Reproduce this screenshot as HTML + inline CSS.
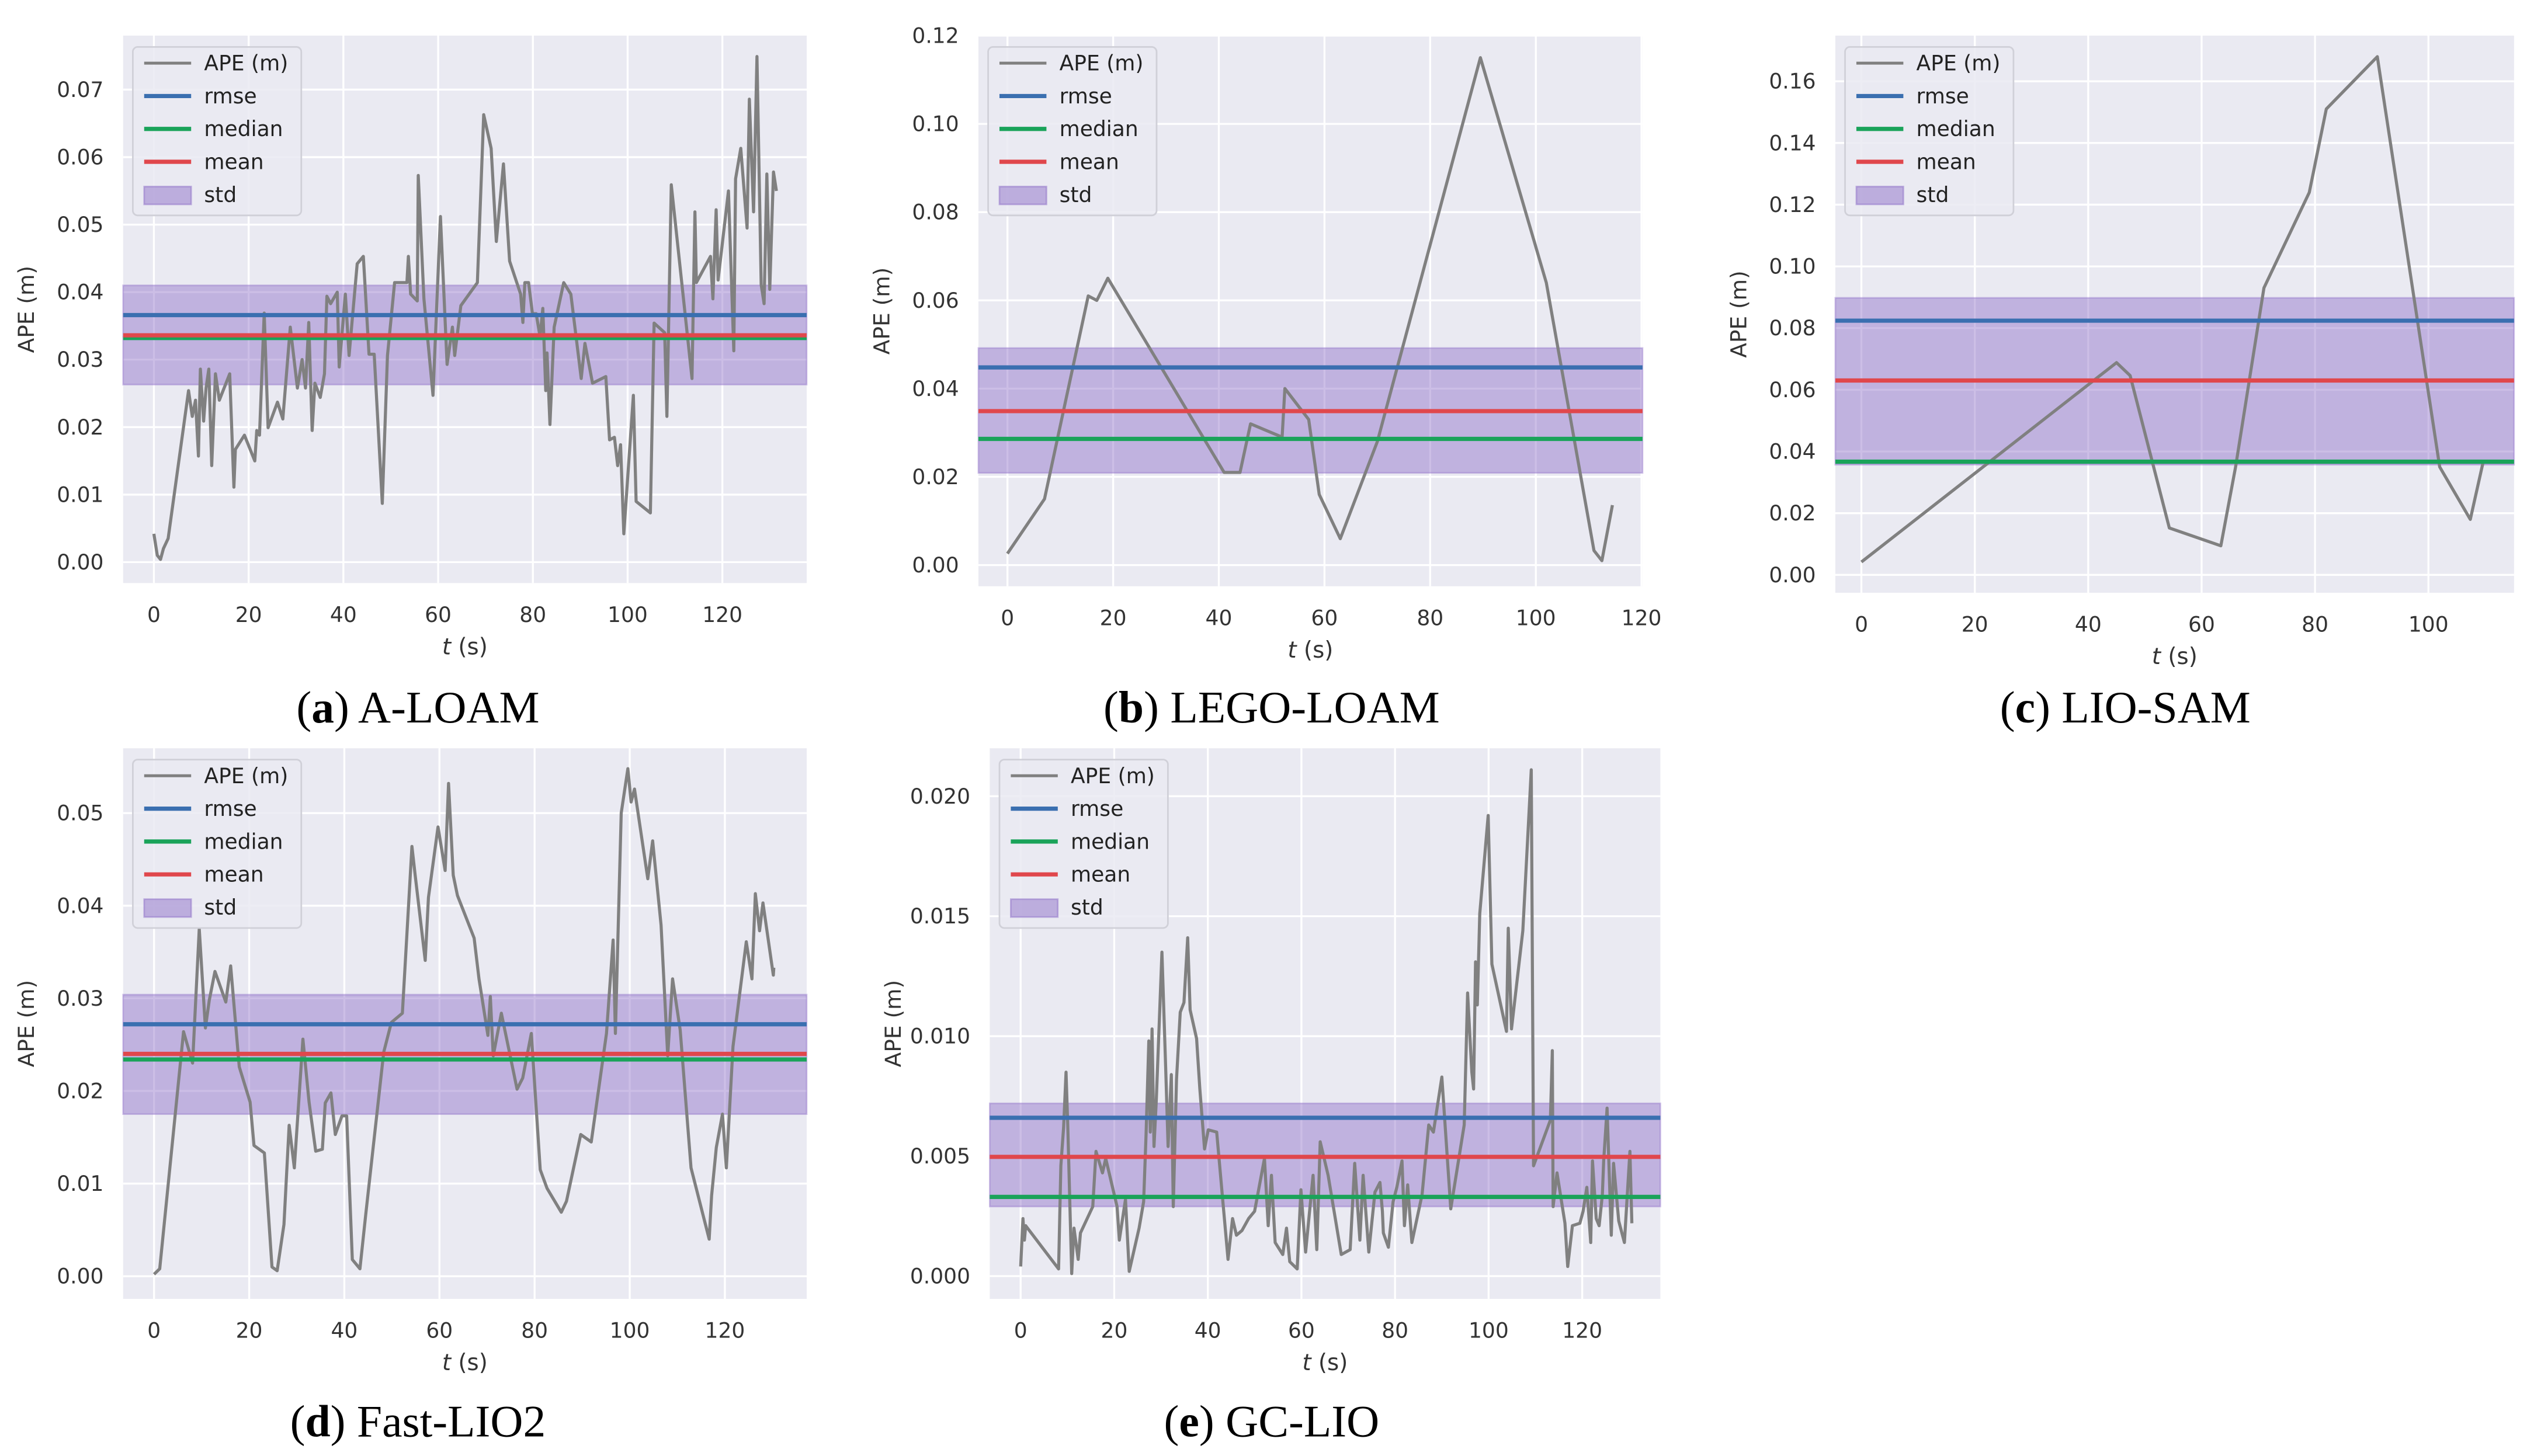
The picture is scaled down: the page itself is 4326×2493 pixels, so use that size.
<!DOCTYPE html>
<html><head><meta charset="utf-8"><style>
html,body{margin:0;padding:0;background:#fff;}
svg{display:block;}
</style></head><body>
<svg id="fig" width="4326" height="2493" viewBox="0 0 1560 899" preserveAspectRatio="none" xmlns="http://www.w3.org/2000/svg" font-family="'DejaVu Sans','Liberation Sans',sans-serif"></svg>
<script>
// ---- data: panel a (A-LOAM)
const aT=[0,0.7,1.4,2,3,7.3,8.1,8.8,9.4,9.8,10.5,11,11.6,12.2,13,13.8,16,16.9,17.2,19.1,21.3,21.7,22.3,23.3,24.1,26.1,27.2,28.8,30.3,31.3,32,32.7,33.4,34,35.1,36,36.5,37.3,38.7,39.1,40.4,41.2,42.9,44.2,45.4,46.5,48.2,49.3,50.8,53.4,53.7,54.2,55.6,55.8,57,58.9,60.5,61.9,63,63.5,64.8,68.3,69.6,71.2,72.3,73.8,75.1,77.4,77.9,78.3,79.1,79.9,80.7,81.5,82.1,82.7,83,83.6,84.5,86.5,88,90.2,91,92.6,95.4,96.2,97.2,97.9,98.5,99.2,101.2,101.8,104.8,105.6,107.8,108.3,109.2,113.6,114.2,114.5,117.5,118,118.7,119.1,121.3,122.4,122.8,123.9,125.2,125.7,126.6,127.3,128.2,128.8,129.4,130,130.8,131.4];
const aV=[0.0042,0.001,0.0004,0.002,0.0035,0.0254,0.0216,0.024,0.0157,0.0286,0.0209,0.0258,0.0286,0.0143,0.0279,0.024,0.0279,0.0111,0.0167,0.0188,0.015,0.0195,0.0188,0.0369,0.0199,0.0237,0.0212,0.0348,0.0258,0.03,0.0258,0.0355,0.0195,0.0265,0.0244,0.0279,0.0394,0.0383,0.04,0.0289,0.0397,0.0306,0.0442,0.0453,0.0308,0.0308,0.0087,0.0306,0.0414,0.0414,0.0453,0.0397,0.0387,0.0573,0.039,0.0247,0.0512,0.0293,0.0348,0.0306,0.038,0.0414,0.0663,0.0613,0.0475,0.059,0.0446,0.0397,0.0355,0.0414,0.0414,0.0368,0.0368,0.0334,0.0376,0.0254,0.031,0.0204,0.0348,0.0414,0.0397,0.0272,0.0324,0.0265,0.0275,0.0181,0.0185,0.0143,0.0174,0.0042,0.0247,0.009,0.0073,0.0354,0.034,0.0216,0.0559,0.0272,0.0519,0.0414,0.0453,0.039,0.0522,0.0418,0.055,0.0313,0.0568,0.0613,0.0495,0.0686,0.0519,0.0749,0.0411,0.0383,0.0575,0.0404,0.0578,0.055];
const aStats=[0.0366,0.0332,0.0336,0.0263,0.0410]; // rmse, median, mean, std lo, std hi
// ---- panel b (LEGO-LOAM)
const bT=[0,7,15.3,16.9,19,41,44,46,52,52.5,57,59,63,70,89.5,102,111,112.5,114.5];
const bV=[0.0026,0.015,0.061,0.06,0.065,0.021,0.021,0.032,0.029,0.04,0.033,0.016,0.006,0.028,0.115,0.064,0.0033,0.001,0.0136];
const bStats=[0.0448,0.0286,0.0349,0.0209,0.0492];
// ---- panel c (LIO-SAM)
const cT=[0,45,47.4,54.3,63.4,66,71,79,82,91,102,107.4,109.7];
const cV=[0.0042,0.0688,0.0646,0.0152,0.0094,0.035,0.093,0.124,0.151,0.168,0.035,0.018,0.037];
const cStats=[0.0824,0.0367,0.063,0.0357,0.0898];
// ---- panel d (Fast-LIO2)
const dT=[0,1.2,6.2,8.1,9.5,10.8,11.6,12.8,15.1,16.1,17.9,20.2,21,23.2,24.8,25.9,27.3,28.4,29.5,31.3,32.6,34,35.4,36,37.2,38.1,39.5,40.5,41.7,43.3,44.5,48.3,49.9,52.2,54.2,54.9,57,57.7,59.7,61.2,61.9,62.9,63.8,67.3,68.3,70.2,70.7,71.3,73,76.3,77.5,79.3,81.2,82.6,85.6,86.7,89.7,91.9,95.1,96.5,97,98.2,99.6,100.3,101,103.8,104.8,106.6,108,109,110.6,112.9,116.7,117.2,118.2,119.5,120.3,121.7,124.5,125.7,126.4,127.3,128,130.2,130.3];
const dV=[0.0002,0.0008,0.0264,0.023,0.0375,0.0268,0.0298,0.0329,0.0296,0.0335,0.0226,0.0188,0.0141,0.0133,0.001,0.0006,0.0056,0.0163,0.0117,0.0256,0.0188,0.0135,0.0137,0.0187,0.0198,0.0153,0.0173,0.0173,0.0018,0.0008,0.0067,0.0242,0.0274,0.0284,0.0464,0.0433,0.0341,0.0409,0.0485,0.0438,0.0532,0.0433,0.0411,0.0365,0.0321,0.026,0.0302,0.0238,0.0284,0.0202,0.0214,0.0262,0.0115,0.0095,0.0069,0.0081,0.0153,0.0145,0.0262,0.0363,0.0262,0.05,0.0548,0.0512,0.0526,0.0429,0.047,0.0379,0.0238,0.0321,0.0266,0.0117,0.004,0.0087,0.0139,0.0175,0.0117,0.0248,0.0361,0.0321,0.0413,0.0373,0.0403,0.0325,0.0333];
const dStats=[0.0272,0.0234,0.024,0.0175,0.0304];
// ---- panel e (GC-LIO)
const eT=[0,0.5,0.8,1.1,8.1,8.6,9.2,9.7,10.1,10.9,11.4,12.3,12.8,15.4,16.1,17.5,18.2,20.6,21.1,22.4,23.2,25.3,26.3,26.8,27.4,27.7,28.1,28.5,29,30.2,31,31.5,32.2,32.6,33.3,34.1,34.9,35.7,36.2,37.6,38.3,39.3,40.1,41.9,44.3,45.3,46.1,47.3,48.7,50,52.1,52.9,53.6,54.4,56,56.8,57.5,59.1,59.9,60.9,62.5,63.3,64,65.7,68.5,70.4,71.4,72.5,73.2,74.4,75.7,76.8,77.3,77.5,78.6,79.6,80.4,81.5,82,82.7,83.6,85.8,87.2,88.2,90,91.9,94.8,95.5,96.4,96.8,97.2,97.6,98.1,99.9,100.7,103.8,104.2,104.9,107.3,109.1,109.6,113.2,113.6,113.8,114.6,116.3,116.9,117.9,119.5,120.2,121,121.8,122.2,123,123.6,124.3,124.6,125.3,126.2,126.7,127.8,129,130.2,130.6];
const eV=[0.0004,0.0024,0.0015,0.0021,0.0003,0.0046,0.0062,0.0085,0.0062,0.0001,0.002,0.0007,0.0018,0.0029,0.0052,0.0043,0.0049,0.0029,0.0015,0.0032,0.0002,0.002,0.0031,0.0059,0.0098,0.006,0.0103,0.0054,0.0073,0.0135,0.0087,0.0054,0.0084,0.0029,0.0082,0.011,0.0114,0.0141,0.0111,0.0099,0.0078,0.0053,0.0061,0.006,0.0007,0.0024,0.0017,0.0019,0.0024,0.0027,0.0049,0.0021,0.0042,0.0014,0.0009,0.002,0.0006,0.0003,0.0036,0.001,0.0042,0.0011,0.0056,0.0042,0.0009,0.0011,0.0047,0.0015,0.0042,0.001,0.0035,0.0039,0.0027,0.0018,0.0012,0.0031,0.0037,0.0048,0.0021,0.0038,0.0014,0.0034,0.0063,0.006,0.0083,0.0028,0.0063,0.0118,0.0085,0.0078,0.0131,0.0113,0.0151,0.0192,0.013,0.0102,0.0145,0.0103,0.0144,0.0211,0.0046,0.0065,0.0094,0.0029,0.0043,0.0022,0.0004,0.0021,0.0022,0.0027,0.0037,0.0014,0.0048,0.0024,0.0021,0.0034,0.0048,0.007,0.0017,0.0047,0.0023,0.0014,0.0052,0.0022];
const eStats=[0.0066,0.0033,0.00497,0.0029,0.0072];
// ---- tick labels
const aYTicks=["0.00","0.01","0.02","0.03","0.04","0.05","0.06","0.07"];
const bYTicks=["0.00","0.02","0.04","0.06","0.08","0.10","0.12"];
const cYTicks=["0.00","0.02","0.04","0.06","0.08","0.10","0.12","0.14","0.16"];
const dYTicks=["0.00","0.01","0.02","0.03","0.04","0.05"];
const eYTicks=["0.000","0.005","0.010","0.015","0.020"];
const xTicks120=["0","20","40","60","80","100","120"];
const xTicks100=["0","20","40","60","80","100"];

const NS="http://www.w3.org/2000/svg";
const fig=document.getElementById('fig');
function mk(tag,attrs,parent){const e=document.createElementNS(NS,tag);for(const k in attrs)e.setAttribute(k,attrs[k]);(parent||fig).appendChild(e);return e;}

function panel(cfg){
  const g=mk('g',{});
  
  
  const [x0,x1,y0,y1]=cfg.rect;
  const sx=t=>x0+(t-cfg.xlim[0])/(cfg.xlim[1]-cfg.xlim[0])*(x1-x0);
  const sy=v=>y1-(v-cfg.ylim[0])/(cfg.ylim[1]-cfg.ylim[0])*(y1-y0);
  const bg=mk('rect',{x:x0,y:y0,width:x1-x0,height:y1-y0,fill:'#eaeaf2'},g);
  
  
  cfg.yt.forEach(s=>{const v=parseFloat(s);const y=sy(v);
    mk('line',{x1:x0,x2:x1,y1:y,y2:y,stroke:'#fff','stroke-width':1.2},g);
    const t=mk('text',{x:x0-12,y:y+4.5,'text-anchor':'end','font-size':13,fill:'#333'},g);
    
    
    t.textContent=s;});
  cfg.xt.forEach(s=>{const v=parseFloat(s);const x=sx(v);
    mk('line',{x1:x,x2:x,y1:y0,y2:y1,stroke:'#fff','stroke-width':1.2},g);
    const t=mk('text',{x:x,y:y1+24,'text-anchor':'middle','font-size':13,fill:'#333'},g);
    
    
    t.textContent=s;});
  const st=cfg.stats;
  const band=mk('rect',{x:x0,y:sy(st[4]),width:x1-x0,height:sy(st[3])-sy(st[4]),fill:'#8e6fc8','fill-opacity':0.45,stroke:'#8e6fc8','stroke-opacity':0.4},g);
  
  
  const pts=cfg.t.map((t,i)=>sx(t).toFixed(1)+','+sy(cfg.v[i]).toFixed(1)).join(' ');
  const ln=mk('polyline',{points:pts,fill:'none',stroke:'#808080','stroke-width':1.9,'stroke-linejoin':'round'},g);
  
  
  [[st[1],'#1aa35a','median-line'],[st[2],'#e0474c','mean-line'],[st[0],'#3a6fb0','rmse-line']].forEach(([v,c,n])=>{
    const l=mk('line',{x1:x0,x2:x1,y1:sy(v),y2:sy(v),stroke:c,'stroke-width':2.6},g);
    
    });
  // legend
  const lx=x0+6,ly=y0+7;
  const lg=mk('g',{},g);
  
  
  mk('rect',{x:lx,y:ly,width:cfg.legW||104,height:104,rx:3,fill:'#eaeaf2','fill-opacity':0.85,stroke:'#d0d0d8'},lg);
  const items=[['APE (m)','#808080',1.8],['rmse','#3a6fb0',2.6],['median','#1aa35a',2.6],['mean','#e0474c',2.6],['std',null,0]];
  items.forEach((it,i)=>{const yy=ly+10+i*20.3;
    if(it[1]) mk('line',{x1:lx+7,x2:lx+36,y1:yy,y2:yy,stroke:it[1],'stroke-width':it[2]},lg);
    else mk('rect',{x:lx+7,y:yy-5,width:29,height:11,fill:'#8e6fc8','fill-opacity':0.5,stroke:'#8e6fc8','stroke-opacity':0.5},lg);
    const t=mk('text',{x:lx+44,y:yy+4.5,'font-size':13,fill:'#222'},lg);
    
    
    t.textContent=it[0];});
  const yl=mk('text',{x:0,y:0,'font-size':13.5,fill:'#333','text-anchor':'middle',transform:`translate(${x0-55},${(y0+y1)/2}) rotate(-90)`},g);
  
  
  yl.textContent='APE (m)';
  const xl=mk('text',{x:(x0+x1)/2,y:y1+44,'font-size':14,fill:'#333','text-anchor':'middle'},g);
  
  
  xl.innerHTML='<tspan font-style="italic">t</tspan> (s)';
  const cap=mk('text',{x:cfg.cap[0],y:cfg.cap[1],'font-size':28,fill:'#000','text-anchor':'middle','font-family':"'Liberation Serif',serif"},g);
  
  
  cap.innerHTML='(<tspan font-weight="bold">'+cfg.letter+'</tspan>) '+cfg.title;
}
panel({name:'panel-a-aloam',rect:[76,498,22,360],xlim:[-6.5,137.8],ylim:[-0.0031,0.078],t:aT,v:aV,stats:aStats,yt:aYTicks,xt:xTicks120,cap:[258,446],letter:'a',title:'A-LOAM'});
panel({name:'panel-b-legoloam',rect:[604,1014,22,362],xlim:[-5.5,120.2],ylim:[-0.0048,0.12],t:bT,v:bV,stats:bStats,yt:bYTicks,xt:xTicks120,cap:[785,446],letter:'b',title:'LEGO-LOAM'});
panel({name:'panel-c-liosam',rect:[1133,1552,22,366],xlim:[-4.6,115.1],ylim:[-0.0058,0.1748],t:cT,v:cV,stats:cStats,yt:cYTicks,xt:xTicks100,cap:[1312,446],letter:'c',title:'LIO-SAM'});
panel({name:'panel-d-fastlio2',rect:[76,498,462,802],xlim:[-6.5,137.2],ylim:[-0.00245,0.057],t:dT,v:dV,stats:dStats,yt:dYTicks,xt:xTicks120,cap:[258,887],letter:'d',title:'Fast-LIO2'});
panel({name:'panel-e-gclio',rect:[611,1025,462,802],xlim:[-6.6,136.7],ylim:[-0.00095,0.022],t:eT,v:eV,stats:eStats,yt:eYTicks,xt:xTicks120,cap:[785,887],letter:'e',title:'GC-LIO'});
</script>
</body></html>
